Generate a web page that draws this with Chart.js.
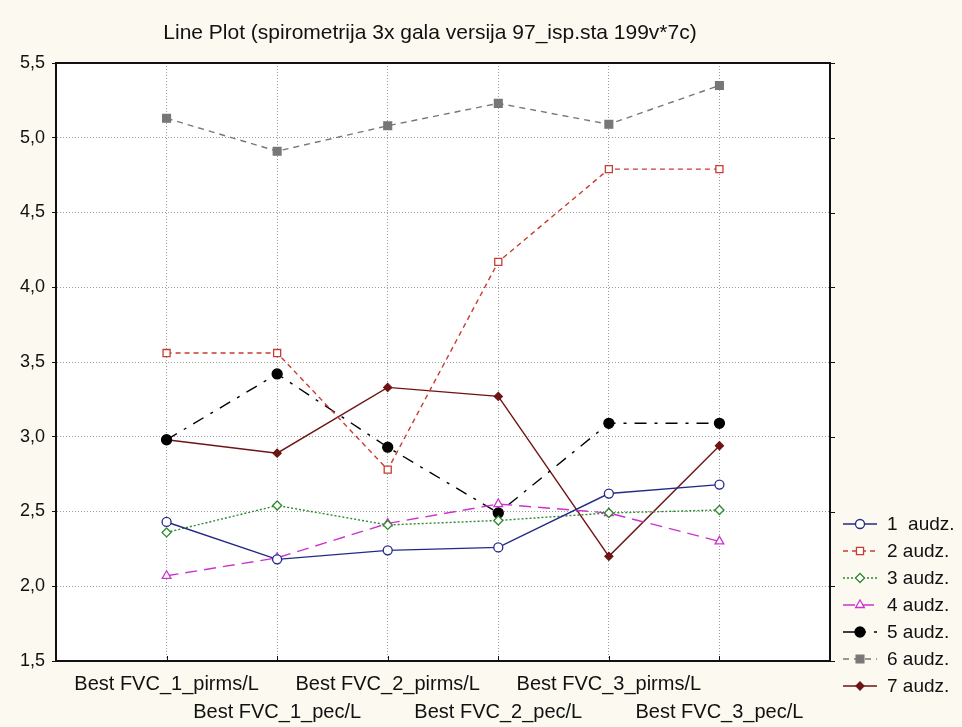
<!DOCTYPE html>
<html>
<head>
<meta charset="utf-8">
<script src="https://cdn.jsdelivr.net/npm/chart.js@4/dist/chart.umd.min.js"></script>
<style>
  html, body { margin: 0; padding: 0; background: #fcf9f0; }
  #wrap { width: 962px; height: 727px; position: relative; }
</style>
</head>
<body>
<div id="wrap"><canvas id="chart-line"></canvas></div>
<script>
// data
const categories = ['Best FVC_1_pirms/L', 'Best FVC_1_pec/L', 'Best FVC_2_pirms/L',
                    'Best FVC_2_pec/L', 'Best FVC_3_pirms/L', 'Best FVC_3_pec/L'];
const seriesNames = ['1  audz.', '2 audz.', '3 audz.', '4 audz.', '5 audz.', '6 audz.', '7 audz.'];
const audz1 = [2.43, 2.18, 2.24, 2.26, 2.62, 2.68];
const audz2 = [3.56, 3.56, 2.78, 4.17, 4.79, 4.79];
const audz3 = [2.36, 2.54, 2.41, 2.44, 2.49, 2.51];
const audz4 = [2.07, 2.19, 2.42, 2.55, 2.49, 2.30];
const audz5 = [2.98, 3.42, 2.93, 2.49, 3.09, 3.09];
const audz6 = [5.13, 4.91, 5.08, 5.23, 5.09, 5.35];
const audz7 = [2.98, 2.89, 3.33, 3.27, 2.20, 2.94];
const yTicks = [1.5, 2.0, 2.5, 3.0, 3.5, 4.0, 4.5, 5.0, 5.5];

const FONT = "'Liberation Sans', Arial, sans-serif";

// category i sits at x = i + 1 on a 0..7 axis
function toPoints(arr) {
    return arr.map((v, i) => ({x: i + 1, y: v}));
}

const styles = [
    {color: '#232a86', dash: [], point: 'circle', r: 4.5, fill: '#ffffff'},
    {color: '#c83c32', dash: [5, 4], point: 'rect', r: 5, fill: '#ffffff'},
    {color: '#2f8a2f', dash: [2, 2], point: 'rectRot', r: 4.5, fill: '#ffffff'},
    {color: '#cc33cc', dash: [12, 7], point: 'triangle', r: 5, fill: '#ffffff'},
    {color: '#000000', dash: [12, 8, 3, 8], point: 'circle', r: 5, fill: '#000000'},
    {color: '#777777', dash: [6, 5], point: 'rect', r: 5.5, fill: '#777777'},
    {color: '#6e1414', dash: [], point: 'rectRot', r: 4, fill: '#6e1414'}
];
const allSeries = [audz1, audz2, audz3, audz4, audz5, audz6, audz7];

const dataLine = {
    datasets: allSeries.map((s, i) => ({
        label: seriesNames[i],
        data: toPoints(s),
        borderColor: styles[i].color,
        borderWidth: 1.4,
        borderDash: styles[i].dash,
        pointStyle: styles[i].point,
        pointRadius: styles[i].r,
        pointBorderWidth: 1.3,
        pointBorderColor: styles[i].color,
        pointBackgroundColor: styles[i].fill,
        tension: 0,
        fill: false
    }))
};

// page colours, white plot area, frame and little axis ticks
const framePlugin = {
    id: 'frame',
    beforeDraw(chart) {
        const ctx = chart.ctx, a = chart.chartArea;
        ctx.save();
        ctx.fillStyle = '#fcf9f0';
        ctx.fillRect(0, 0, chart.width, chart.height);
        ctx.fillStyle = '#ffffff';
        ctx.fillRect(a.left, a.top, a.right - a.left, a.bottom - a.top);
        ctx.restore();
    },
    afterDraw(chart) {
        const ctx = chart.ctx, a = chart.chartArea;
        const xs = chart.scales.x, ys = chart.scales.y;
        ctx.save();
        ctx.strokeStyle = '#111111';
        ctx.lineWidth = 1;
        ctx.beginPath();
        categories.forEach((c, i) => {
            const px = Math.round(xs.getPixelForValue(i + 1)) + 0.5;
            ctx.moveTo(px, a.bottom);
            ctx.lineTo(px, a.bottom - 5);
        });
        yTicks.forEach(v => {
            const py = Math.round(ys.getPixelForValue(v)) + 0.5;
            ctx.moveTo(a.right, py);
            ctx.lineTo(a.right + 5, py);
        });
        ctx.stroke();
        ctx.lineWidth = 2;
        ctx.strokeRect(a.left, a.top, a.right - a.left, a.bottom - a.top);
        // title
        ctx.fillStyle = '#111111';
        ctx.font = '21px ' + FONT;
        ctx.textAlign = 'center';
        ctx.textBaseline = 'middle';
        ctx.fillText('Line Plot (spirometrija 3x gala versija 97_isp.sta 199v*7c)', 430, 33);
        ctx.restore();
    }
};

// legend: short line with marker then the name
const legendPlugin = {
    id: 'sideLegend',
    afterDraw(chart) {
        const ctx = chart.ctx;
        chart.data.datasets.forEach((ds, i) => {
            const y = 524 + i * 27;
            ctx.save();
            ctx.strokeStyle = ds.borderColor;
            ctx.lineWidth = 1.5;
            ctx.setLineDash(ds.borderDash);
            ctx.beginPath();
            ctx.moveTo(843, y);
            ctx.lineTo(877, y);
            ctx.stroke();
            ctx.setLineDash([]);
            ctx.fillStyle = ds.pointBackgroundColor;
            ctx.strokeStyle = ds.pointBorderColor;
            ctx.lineWidth = 1.3;
            Chart.helpers.drawPoint(ctx, {pointStyle: ds.pointStyle, radius: ds.pointRadius, borderWidth: 1.3, rotation: 0}, 860, y);
            ctx.fillStyle = '#111111';
            ctx.font = '19px ' + FONT;
            ctx.textAlign = 'left';
            ctx.textBaseline = 'middle';
            ctx.fillText(ds.label, 887, y + 1);
            ctx.restore();
        });
    }
};

const configLine = {
    type: 'line',
    data: dataLine,
    options: {
        responsive: true,
        maintainAspectRatio: false,
        animation: false,
        layout: { padding: { left: 0, top: 63, right: 132, bottom: 0 } },
        scales: {
            x: {
                type: 'linear',
                min: 0,
                max: 7,
                afterFit(scale) { scale.height = 66; },
                afterBuildTicks(scale) {
                    scale.ticks = [0, 1, 2, 3, 4, 5, 6, 7].map(v => ({value: v}));
                },
                ticks: {
                    autoSkip: false,
                    maxRotation: 0,
                    minRotation: 0,
                    padding: 9,
                    color: '#111111',
                    font: { family: FONT, size: 20, lineHeight: 1.4 },
                    callback(v) {
                        if (v < 1 || v > 6) return '';
                        const lab = categories[v - 1];
                        return (v % 2 === 1) ? lab : ['', lab];
                    }
                },
                grid: {
                    color: (c) => (c.tick && c.tick.value >= 1 && c.tick.value <= 6) ? '#9a9a9a' : 'rgba(0,0,0,0)',
                    lineWidth: 1,
                    drawTicks: false
                },
                border: { display: true, color: '#111111', width: 2, dash: [1, 2] }
            },
            y: {
                min: 1.5,
                max: 5.5,
                afterFit(scale) { scale.width = 56; },
                afterBuildTicks(scale) {
                    scale.ticks = yTicks.map(v => ({value: v}));
                },
                ticks: {
                    padding: 7,
                    color: '#111111',
                    font: { family: FONT, size: 18 },
                    callback: (v) => v.toFixed(1).replace('.', ',')
                },
                grid: {
                    color: (c) => (c.tick && c.tick.value > 1.5 && c.tick.value < 5.5) ? '#9a9a9a' : 'rgba(0,0,0,0)',
                    lineWidth: 1,
                    tickLength: 4,
                    tickColor: '#111111'
                },
                border: { display: true, color: '#111111', width: 2, dash: [1, 2] }
            }
        },
        plugins: {
            legend: { display: false },
            title: { display: false },
            tooltip: { enabled: false }
        }
    },
    plugins: [framePlugin, legendPlugin]
};

const chartLine = new Chart(document.getElementById('chart-line'), configLine);
</script>
</body>
</html>
